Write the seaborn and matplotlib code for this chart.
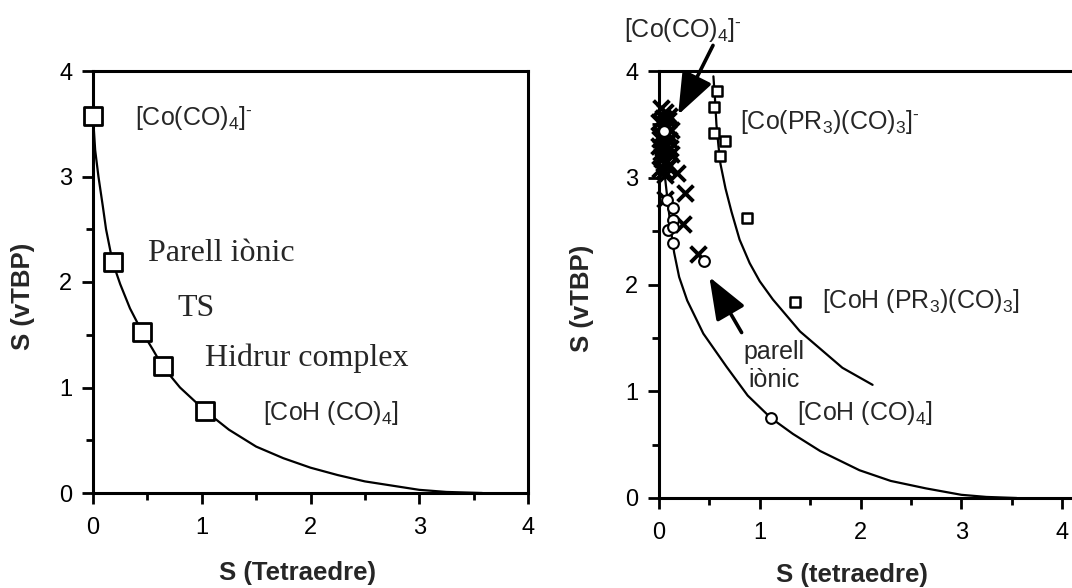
import matplotlib
matplotlib.use("Agg")
import matplotlib.pyplot as plt
from matplotlib.ticker import MultipleLocator
import seaborn as sns

# ---------------- data ----------------
# left panel: minimum distortion path and squares
left_curve_x = [0.0, 0.02, 0.05, 0.09, 0.12, 0.18, 0.25, 0.34, 0.45, 0.55, 0.64, 0.80, 1.03,
                1.25, 1.50, 1.75, 2.00, 2.25, 2.50, 2.75, 3.00, 3.25, 3.58]
left_curve_y = [3.57, 3.25, 3.00, 2.72, 2.50, 2.19, 1.98, 1.75, 1.53, 1.36, 1.20, 1.00, 0.78,
                0.60, 0.44, 0.33, 0.24, 0.17, 0.11, 0.07, 0.03, 0.01, 0.0]
left_sq_x = [0.0, 0.18, 0.45, 0.64, 1.03]
left_sq_y = [3.57, 2.19, 1.53, 1.20, 0.78]

# right panel: lower path
r_low_x = [0.0, 0.03, 0.06, 0.09, 0.12, 0.15, 0.20, 0.28, 0.44, 0.67, 0.88, 1.11, 1.33,
           1.60, 1.99, 2.30, 2.65, 3.00, 3.25, 3.55]
r_low_y = [3.60, 3.25, 3.00, 2.75, 2.50, 2.30, 2.07, 1.85, 1.54, 1.23, 0.96, 0.75, 0.60,
           0.44, 0.26, 0.16, 0.09, 0.03, 0.01, 0.0]
# right panel: upper path
r_up_x = [0.54, 0.555, 0.57, 0.59, 0.61, 0.66, 0.72, 0.80, 0.90, 1.00, 1.13, 1.40, 1.82, 2.12]
r_up_y = [3.95, 3.75, 3.50, 3.30, 3.13, 2.90, 2.68, 2.42, 2.20, 2.03, 1.86, 1.56, 1.22, 1.06]

# right panel markers
r_sq_x = [0.58, 0.55, 0.55, 0.66, 0.61, 0.87, 1.35]
r_sq_y = [3.81, 3.66, 3.42, 3.34, 3.20, 2.62, 1.84]
r_circ_x = [0.05, 0.08, 0.14, 0.14, 0.09, 0.14, 0.14, 0.45, 1.11]
r_circ_y = [3.44, 2.79, 2.72, 2.60, 2.51, 2.54, 2.39, 2.22, 0.75]
r_cross_x = [0.02, 0.06, 0.10, 0.00, 0.04, 0.08, 0.12, 0.02, 0.06, 0.10, 0.00, 0.04, 0.08,
             0.12, 0.03, 0.07, 0.10, 0.01, 0.05, 0.09, 0.03, 0.07, 0.04, 0.08, 0.01, 0.11,
             0.05, 0.02, 0.09, 0.06,
             0.18, 0.26, 0.24, 0.39, 0.06]
r_cross_y = [3.65, 3.62, 3.58, 3.52, 3.50, 3.48, 3.45, 3.40, 3.38, 3.35, 3.30, 3.28, 3.25,
             3.22, 3.18, 3.15, 3.12, 3.08, 3.06, 3.10, 3.20, 3.32, 3.56, 3.42, 3.36, 3.28,
             3.14, 3.24, 3.54, 3.03,
             3.04, 2.86, 2.57, 2.29, 2.80]

ticks = [0, 1, 2, 3, 4]
tick_labels = ["0", "1", "2", "3", "4"]

# ---------------- style ----------------
sns.set_style("ticks")
plt.rcParams['font.family'] = ['Liberation Sans', 'DejaVu Sans']
plt.rcParams['mathtext.fontset'] = 'custom'
plt.rcParams['mathtext.rm'] = 'Liberation Sans'
plt.rcParams['mathtext.it'] = 'Liberation Sans:italic'
plt.rcParams['mathtext.bf'] = 'Liberation Sans:bold'

fig = plt.figure(figsize=(10.72, 5.88), dpi=100)
W, H = 1072, 588

def px_axes(l, t, r, b):
    return fig.add_axes([l / W, 1 - b / H, (r - l) / W, (b - t) / H])

axL = px_axes(93, 71, 528, 493)
axR = px_axes(659, 71, 659 + 4.2 * 100.75, 498)

def style(ax, xmax):
    ax.set_xlim(0, xmax)
    ax.set_ylim(0, 4)
    ax.set_xticks(ticks)
    ax.set_xticklabels(tick_labels)
    ax.set_yticks(ticks)
    ax.set_yticklabels(tick_labels)
    ax.xaxis.set_minor_locator(MultipleLocator(0.5))
    ax.yaxis.set_minor_locator(MultipleLocator(0.5))
    for s in ax.spines.values():
        s.set_linewidth(2.2)
        s.set_color('k')
    ax.tick_params(which='major', length=8, width=2, direction='out', labelsize=17,
                   colors='k')
    ax.tick_params(axis='x', which='major', pad=9)
    ax.tick_params(axis='y', which='major', pad=7)
    ax.tick_params(which='minor', length=5, width=2, direction='out', colors='k')

style(axL, 4)
style(axR, 4.2)

# ---------------- left panel ----------------
sns.lineplot(x=left_curve_x, y=left_curve_y, sort=False, estimator=None, color='k',
             linewidth=1.6, ax=axL)
sns.scatterplot(x=left_sq_x, y=left_sq_y, marker='s', s=150, facecolor='white',
                edgecolor='k', linewidth=2, ax=axL, zorder=5, clip_on=False)

sans18 = dict(fontsize=18, family=['Liberation Sans', 'DejaVu Sans'])
serif23 = dict(fontsize=23, family=['Liberation Serif', 'DejaVu Serif'])
minus = r'$^{\text{-}}$'
axL.text(0.39, 3.55, r'[Co(CO)$_4$]' + minus, ha='left', va='center', **sans18)
axL.text(0.51, 2.27, 'Parell iònic', ha='left', va='center', **serif23)
axL.text(0.78, 1.75, 'TS', ha='left', va='center', **serif23)
axL.text(1.03, 1.28, 'Hidrur complex', ha='left', va='center', **serif23)
axL.text(1.56, 0.76, r'[CoH (CO)$_4$]', ha='left', va='center', **sans18)

axL.set_xlabel('S (Tetraedre)', fontsize=18.5, fontweight='bold', va='center')
axL.set_ylabel('S (vTBP)', fontsize=18.5, fontweight='bold')
axL.xaxis.set_label_coords(0.469, -0.19)
axL.yaxis.set_label_coords(-0.133, 0.467)

# ---------------- right panel ----------------
sns.lineplot(x=r_low_x, y=r_low_y, sort=False, estimator=None, color='k',
             linewidth=1.6, ax=axR)
sns.lineplot(x=r_up_x, y=r_up_y, sort=False, estimator=None, color='k',
             linewidth=1.6, ax=axR)
sns.scatterplot(x=r_cross_x, y=r_cross_y, marker='x', s=130, color='k',
                linewidth=2.8, ax=axR, zorder=4, clip_on=False)
sns.scatterplot(x=r_circ_x, y=r_circ_y, marker='o', s=60, facecolor='white',
                edgecolor='k', linewidth=1.5, ax=axR, zorder=5)
sns.scatterplot(x=r_sq_x, y=r_sq_y, marker='s', s=60, facecolor='white',
                edgecolor='k', linewidth=1.8, ax=axR, zorder=5)

axR.text(0.24, 4.38, r'[Co(CO)$_4$]' + minus, ha='center', va='center', **sans18)
axR.text(0.80, 3.52, r'[Co(PR$_3$)(CO)$_3$]' + minus, ha='left', va='center', **sans18)
axR.text(1.62, 1.85, r'[CoH (PR$_3$)(CO)$_3$]', ha='left', va='center', **sans18)
axR.text(1.14, 1.24, 'parell\niònic', ha='center', va='center', linespacing=1.2, **sans18)
axR.text(1.37, 0.80, r'[CoH (CO)$_4$]', ha='left', va='center', **sans18)

arrow = dict(arrowstyle='-|>,head_length=1.3,head_width=0.5', color='k', lw=2.6,
             shrinkA=0, shrinkB=0, mutation_scale=20)
axR.annotate('', xy=(0.19, 3.59), xytext=(0.536, 4.24), arrowprops=arrow,
             annotation_clip=False)
axR.annotate('', xy=(0.50, 2.07), xytext=(0.82, 1.55), arrowprops=arrow,
             annotation_clip=False)

axR.set_xlabel('S (tetraedre)', fontsize=18.5, fontweight='bold', va='center')
axR.set_ylabel('S (vTBP)', fontsize=18.5, fontweight='bold')
axR.xaxis.set_label_coords(0.456, -0.18)
axR.yaxis.set_label_coords(-0.153, 0.468)

fig.savefig('out.png', dpi=100)
